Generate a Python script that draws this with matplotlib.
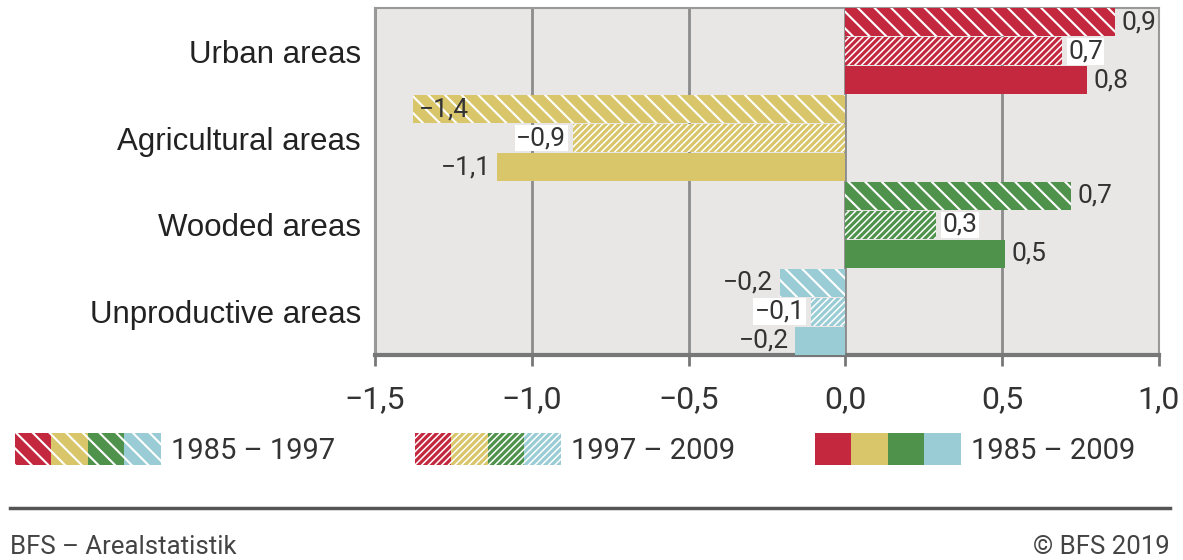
import matplotlib.pyplot as plt
import matplotlib as mpl
from matplotlib.patches import Rectangle
from matplotlib.legend_handler import HandlerTuple

categories = ['Urban areas', 'Agricultural areas', 'Wooded areas', 'Unproductive areas']
periods = ['1985 – 1997', '1997 – 2009', '1985 – 2009']
change_85_97 = [0.86, -1.38, 0.72, -0.21]
change_97_09 = [0.69, -0.87, 0.29, -0.11]
change_85_09 = [0.77, -1.11, 0.51, -0.16]
labels_85_97 = ['0,9', '−1,4', '0,7', '−0,2']
labels_97_09 = ['0,7', '−0,9', '0,3', '−0,1']
labels_85_09 = ['0,8', '−1,1', '0,5', '−0,2']
xticks = [-1.5, -1.0, -0.5, 0.0, 0.5, 1.0]
xticklabels = ['−1,5', '−1,0', '−0,5', '0,0', '0,5', '1,0']

colors = ['#C4283F', '#D9C66B', '#4F924C', '#9ACCD6']
hatches = ['\\\\', '/////', None]
hatch_widths = [1.5, 1.1, 1.0]

plt.rcParams['hatch.color'] = 'white'
plt.rcParams['font.family'] = ['Roboto', 'DejaVu Sans']

fig = plt.figure(figsize=(11.83, 5.6), dpi=100)
ax = fig.add_axes([375 / 1183, 1 - 355 / 560, (1159 - 375) / 1183, (355 - 8) / 560])
ax.set_facecolor('#E8E7E6')

series = [change_85_97, change_97_09, change_85_09]
series_labels = [labels_85_97, labels_97_09, labels_85_09]
bh = 1 / 3
for j, (vals, labs) in enumerate(zip(series, series_labels)):
    plt.rcParams['hatch.linewidth'] = hatch_widths[j]
    for i, v in enumerate(vals):
        y = i - bh + j * bh
        ax.barh(y, v, height=bh * 0.97, color=colors[i], hatch=hatches[j], linewidth=0, zorder=3)
        box = dict(facecolor='white', edgecolor='none', pad=1) if j == 1 else None
        if v >= 0:
            ax.text(v + 0.02, y, labs[i], ha='left', va='center', fontsize=19, color='#333333', bbox=box, zorder=4)
        elif v < -1.2:
            ax.text(v + 0.02, y, labs[i], ha='left', va='center', fontsize=19, color='#333333', zorder=4)
        else:
            ax.text(v - 0.02, y, labs[i], ha='right', va='center', fontsize=19, color='#333333', bbox=box, zorder=4)

ax.set_xlim(-1.5, 1.0)
ax.set_ylim(3.5, -0.5)
ax.set_xticks(xticks)
ax.set_xticklabels(xticklabels, fontsize=23, color='#333333')
ax.set_yticks(range(len(categories)))
ax.set_yticklabels(categories, fontsize=22.5, color='#222222', family='Liberation Sans')
ax.tick_params(axis='y', length=0, pad=10)
ax.tick_params(axis='x', length=8, width=2, color='#777777', pad=14)
ax.grid(axis='x', color='#8C8C8C', linewidth=2, zorder=1)
for s in ['top', 'right', 'left']:
    ax.spines[s].set_color('#999999')
    ax.spines[s].set_linewidth(1.5)
ax.spines['bottom'].set_color('#777777')
ax.spines['bottom'].set_linewidth(3)

# legend: one block of 4-colour swatches per period
legend_x = [15, 415, 815]
for j in range(3):
    plt.rcParams['hatch.linewidth'] = hatch_widths[j]
    handle = tuple(Rectangle((0, 0), 1, 1, facecolor=c, hatch=hatches[j], linewidth=0) for c in colors)
    leg = fig.legend([handle], [periods[j]], handler_map={tuple: HandlerTuple(ndivide=None, pad=0)},
                     loc='center left', bbox_to_anchor=(legend_x[j] / 1183, 1 - 449 / 560),
                     frameon=False, borderpad=0, borderaxespad=0,
                     handlelength=5.0, handleheight=1.28, handletextpad=0.35,
                     fontsize=21, labelcolor='#333333')

fig.add_artist(plt.Line2D([10 / 1183, 1170 / 1183], [1 - 508 / 560] * 2, color='#555555', linewidth=2.5))
fig.text(10 / 1183, 1 / 560, 'BFS – Arealstatistik', fontsize=18.5, color='#444444', ha='left', va='bottom')
fig.text(1170 / 1183, 1 / 560, '© BFS 2019', fontsize=18.5, color='#444444', ha='right', va='bottom')

fig.savefig('out.png', dpi=100)
